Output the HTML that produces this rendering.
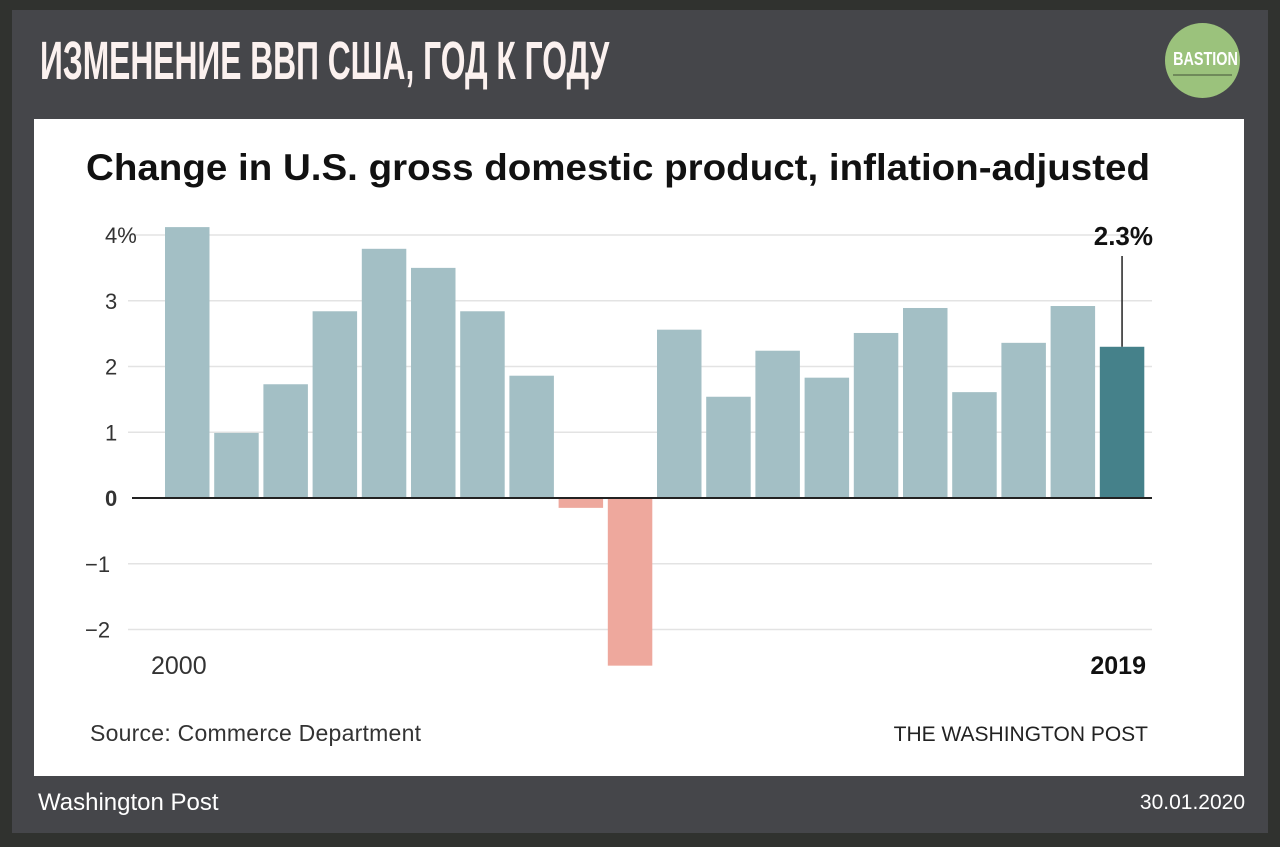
<!DOCTYPE html>
<html><head><meta charset="utf-8"><style>
body{margin:0;width:1280px;height:847px;background:#30322f;position:relative;overflow:hidden;font-family:"Liberation Sans",sans-serif}
#panel{position:absolute;left:12px;top:10px;width:1256px;height:823px;background:#45464a}
#title{position:absolute;left:40px;top:30px;font-family:"Liberation Sans Narrow","Liberation Sans",sans-serif;font-weight:bold;font-size:54px;color:#fbf1ef;transform-origin:0 0;transform:scaleX(0.588);white-space:nowrap}
#logo{position:absolute;left:1165px;top:23px;width:75px;height:75px;border-radius:50%;background:#9bc27c;color:#fff;font-family:"Liberation Sans Narrow",sans-serif;font-weight:bold;font-size:18px;text-align:center;line-height:72px}
#logo span{display:inline-block;transform:scaleX(0.8)}
#logo:after{content:"";position:absolute;left:8px;right:8px;top:51px;height:2px;background:#6f8a5a}
#card{position:absolute;left:34px;top:119px;width:1210px;height:657px;background:#fff}
.foot{position:absolute;top:789px;color:#fff;font-size:24px}
</style></head><body>
<div id="panel"></div>
<div id="title">ИЗМЕНЕНИЕ ВВП США, ГОД К ГОДУ</div>
<div id="logo"><span>BASTION</span></div>
<div id="card"></div>
<svg id="chart" width="1280" height="847" style="position:absolute;left:0;top:0" font-family="Liberation Sans, sans-serif">
<text x="86" y="180" font-size="37" font-weight="bold" fill="#111" textLength="1064" lengthAdjust="spacingAndGlyphs">Change in U.S. gross domestic product, inflation-adjusted</text>
<g id="grid"></g><g id="bars"></g>
<text x="90" y="741" font-size="23" fill="#333" textLength="331">Source: Commerce Department</text>
<text x="1148" y="741" font-size="21" fill="#222" text-anchor="end">THE WASHINGTON POST</text>
</svg>
<div class="foot" style="left:38px">Washington Post</div>
<div class="foot" style="right:35px;font-size:21px;top:791px">30.01.2020</div>
<script>
const years=[2000,2001,2002,2003,2004,2005,2006,2007,2008,2009,2010,2011,2012,2013,2014,2015,2016,2017,2018,2019];
const values=[4.12,0.99,1.73,2.84,3.79,3.5,2.84,1.86,-0.15,-2.55,2.56,1.54,2.24,1.83,2.51,2.89,1.61,2.36,2.92,2.3];
const ticks=[4,3,2,1,0,-1,-2];
const tickLabels=["4%","3","2","1","0","\u22121","\u22122"];
const NS="http://www.w3.org/2000/svg";
const y=v=>498-v*65.75;
const x=i=>165+i*49.2;
const bw=44.5;
const g=document.getElementById('grid'),b=document.getElementById('bars');
function mk(t,a,p){const e=document.createElementNS(NS,t);for(const k in a)e.setAttribute(k,a[k]);p.appendChild(e);return e;}
ticks.forEach((t,i)=>{
 if(t!==0){const l=mk('line',{x1:128,x2:1152,y1:y(t),y2:y(t),stroke:'#e3e3e3','stroke-width':1.5},g);
 
 }
 const tx=mk('text',{x:t<0?85:105,y:y(t)+8,'font-size':22,fill:'#333','font-weight':t===0?'bold':'normal'},g);
 tx.textContent=tickLabels[i];
 
 
});
values.forEach((v,i)=>{
 const last=i===values.length-1;
 const r=mk('rect',{x:x(i),y:Math.min(y(v),y(0)),width:bw,height:Math.abs(y(v)-y(0)),fill:v<0?'#eea89d':(last?'#45818a':'#a3bfc5')},b);
 
 
});
const z=mk('line',{x1:132,x2:1152,y1:y(0),y2:y(0),stroke:'#222','stroke-width':2},b);


const li=values.length-1;
const cx=x(li)+bw/2;
const ln=mk('line',{x1:cx,x2:cx,y1:256,y2:y(values[li]),stroke:'#222','stroke-width':1.5},b);


const lab=mk('text',{x:1153,y:245,'font-size':26,'font-weight':'bold','text-anchor':'end',fill:'#111'},b);
lab.textContent=values[li].toFixed(1)+'%';


const x0=mk('text',{x:151,y:674,'font-size':25,fill:'#333'},b);
x0.textContent=years[0];


const x1=mk('text',{x:1146,y:674,'font-size':25,'font-weight':'bold','text-anchor':'end',fill:'#111'},b);
x1.textContent=years[li];


</script>
</body></html>
